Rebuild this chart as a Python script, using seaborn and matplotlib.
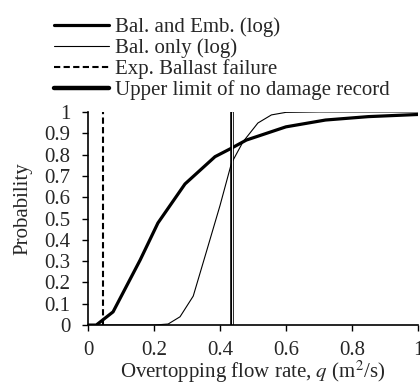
import pandas as pd
import numpy as np
import matplotlib
matplotlib.use("Agg")
import matplotlib.pyplot as plt
import seaborn as sns
from matplotlib.lines import Line2D

q_emb = [0.0, 0.025, 0.076, 0.158, 0.212, 0.294, 0.385, 0.435, 0.48, 0.60, 0.72, 0.85, 1.0]
p_emb = [0.0, 0.0, 0.062, 0.305, 0.479, 0.662, 0.79, 0.83, 0.868, 0.93, 0.962, 0.978, 0.988]

q_bal = [0.0, 0.2, 0.243, 0.279, 0.319, 0.36, 0.40, 0.435, 0.47, 0.515, 0.556, 0.60, 0.7, 1.0]
p_bal = [0.0, 0.0, 0.005, 0.039, 0.136, 0.35, 0.56, 0.76, 0.86, 0.948, 0.986, 0.998, 1.0, 1.0]

q_exp_failure = 0.046
q_no_damage = 0.435

sns.set_style("ticks")
plt.rcParams['font.family'] = ['Liberation Serif', 'DejaVu Serif']
plt.rcParams['mathtext.fontset'] = 'stix'
font_size = 15

fig = plt.figure(figsize=(4.2, 3.82), dpi=100)
ax = fig.add_axes([0.2095, 0.149, 0.7855, 0.558])

df_emb = pd.DataFrame({'q': q_emb, 'p': p_emb})
df_bal = pd.DataFrame({'q': q_bal, 'p': p_bal})

sns.lineplot(data=df_emb, x='q', y='p', ax=ax, color='black', lw=2.3, sort=False)
sns.lineplot(data=df_bal, x='q', y='p', ax=ax, color='black', lw=0.8, sort=False)

ax.axvline(q_exp_failure, color='black', lw=1.5, ls=(0, (3, 1.6)))
# double line: black with white core
ax.axvline(q_no_damage, color='black', lw=2.6)
ax.axvline(q_no_damage, color='white', lw=0.7)

ax.set_xlim(0, 1)
ax.set_ylim(0, 1)
ax.set_xticks(np.arange(0, 1.01, 0.2))
ax.set_xticklabels(['0', '0.2', '0.4', '0.6', '0.8', '1'])
ax.set_yticks(np.arange(0, 1.01, 0.1))
ax.set_yticklabels(['0'] + [f'{v:.1f}' for v in np.arange(0.1, 0.95, 0.1)] + ['1'])
ax.tick_params(labelsize=font_size, direction='out', length=4.5, width=1, color='black')
ax.tick_params(axis='y', pad=8)
ax.tick_params(axis='x', pad=7)
for s in ['left', 'bottom']:
    ax.spines[s].set_linewidth(1.2)
    ax.spines[s].set_color('black')
sns.despine(ax=ax)

ax.set_xlabel('Overtopping flow rate, $q$ (m$^2$/s)', fontsize=font_size, labelpad=-1)
ax.set_ylabel('Probability', fontsize=font_size, labelpad=9, y=0.545)

handles = [
    Line2D([0], [0], color='black', lw=2.3),
    Line2D([0], [0], color='black', lw=0.8),
    Line2D([0], [0], color='black', lw=1.5, ls=(0, (3, 1.6))),
    Line2D([0], [0], color='black', lw=3.2),
]
labels = ['Bal. and Emb. (log)', 'Bal. only (log)', 'Exp. Ballast failure',
          'Upper limit of no damage record']
fig.legend(handles, labels, loc='upper left', bbox_to_anchor=(0.098, 0.987),
           frameon=False, fontsize=font_size, handlelength=2.65, handletextpad=0.3,
           labelspacing=0.05, borderaxespad=0.3, borderpad=0.3)

fig.savefig('out.png', dpi=100)
